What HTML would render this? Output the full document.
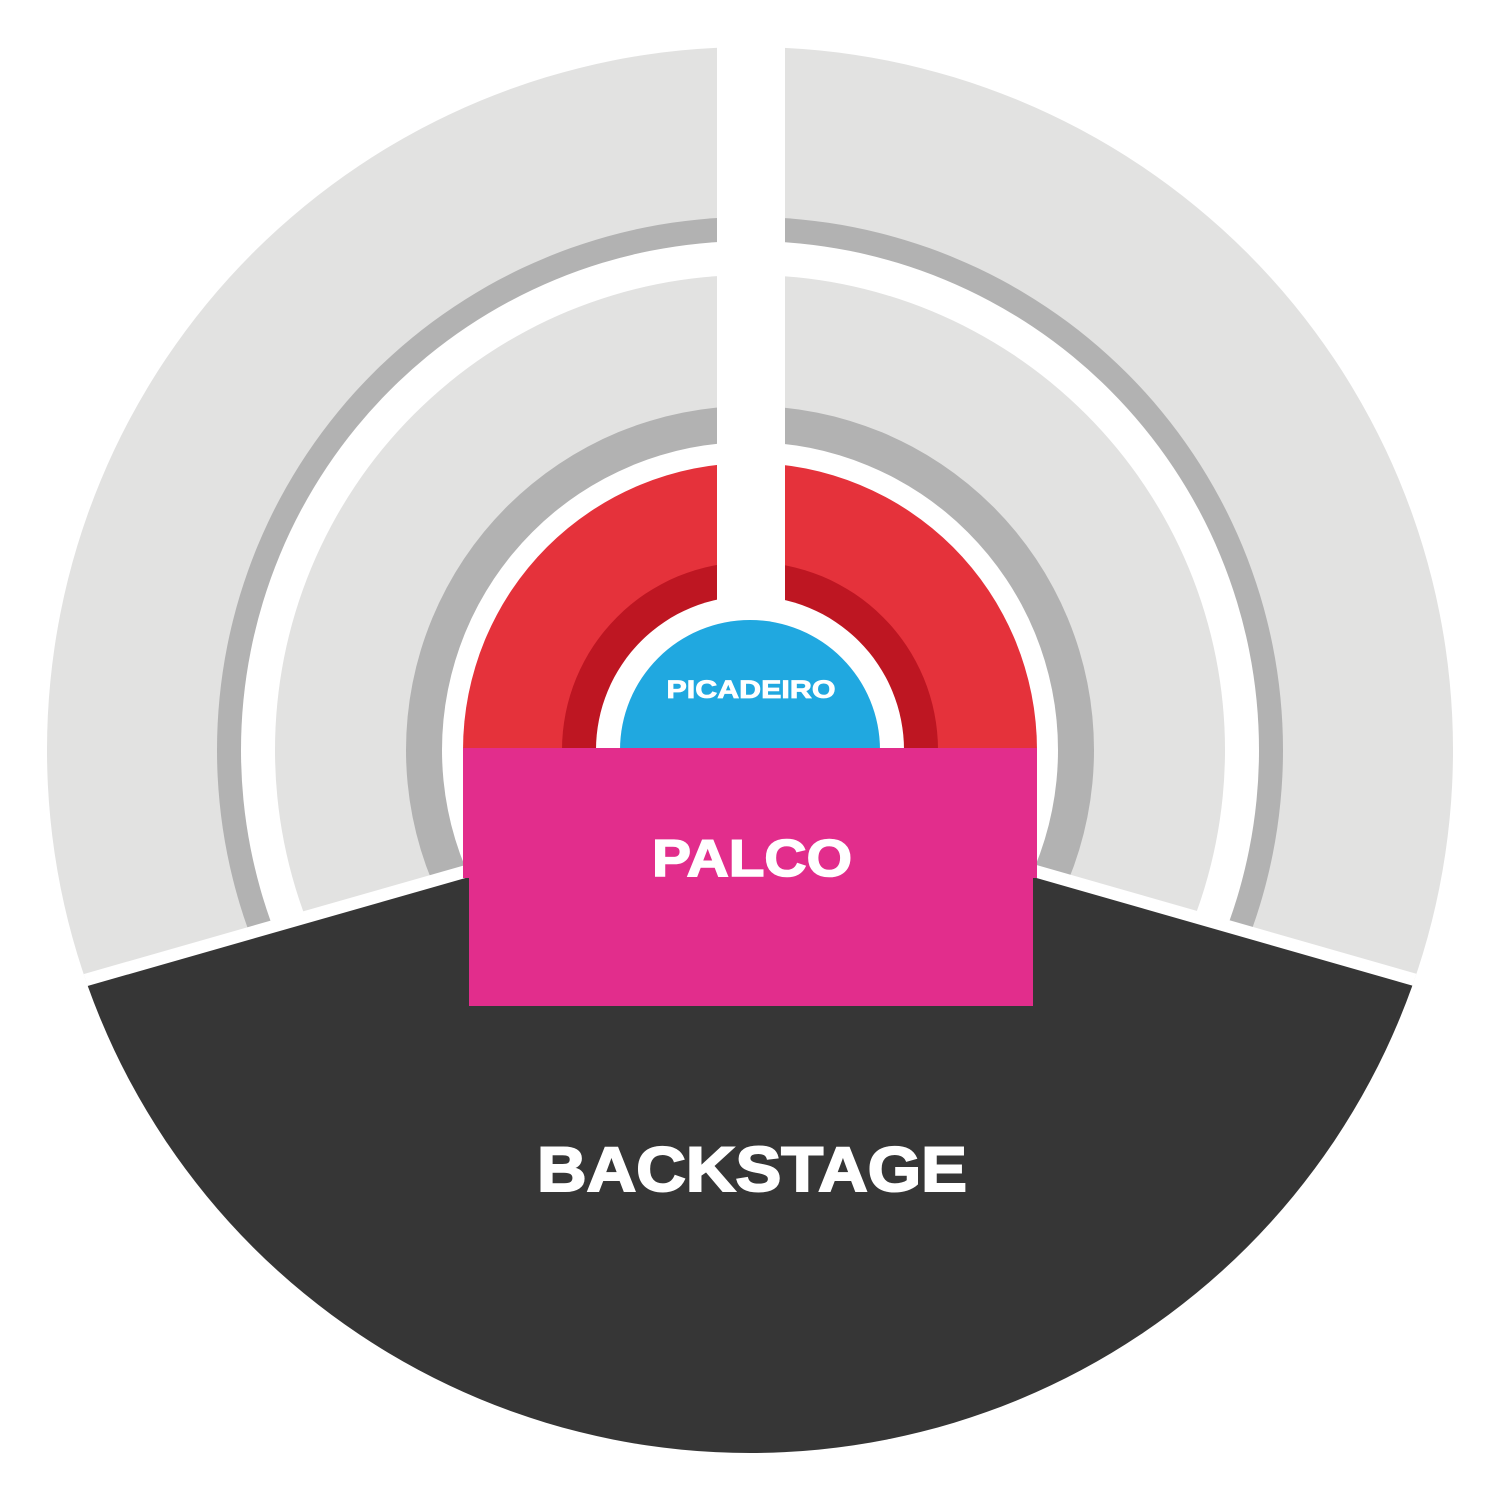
<!DOCTYPE html>
<html><head><style>html,body{margin:0;padding:0;background:#fff}svg{display:block}</style></head>
<body>
<svg width="1501" height="1501" viewBox="0 0 1501 1501" xmlns="http://www.w3.org/2000/svg">
<defs><clipPath id="c"><circle cx="750" cy="750" r="703"/></clipPath></defs>
<circle cx="750" cy="750" r="703" fill="#E2E2E1"/>
<circle cx="750" cy="750" r="533" fill="#B2B2B2"/>
<circle cx="750" cy="750" r="509" fill="#fff"/>
<circle cx="750" cy="750" r="475" fill="#E2E2E1"/>
<circle cx="750" cy="750" r="344" fill="#B2B2B2"/>
<circle cx="750" cy="750" r="308" fill="#fff"/>
<path d="M463 750 A287 287 0 0 1 1037 750 Z" fill="#E5323B"/>
<path d="M562 750 A188 188 0 0 1 938 750 Z" fill="#BE1622"/>
<path d="M596 750 A154 154 0 0 1 904 750 Z" fill="#fff"/>
<rect x="717" y="0" width="68" height="612" fill="#fff"/>
<path d="M620 750 A130 130 0 0 1 880 750 Z" fill="#20A8E0"/>
<g clip-path="url(#c)">
<polygon points="469,864 0,998 0,1501 1501,1501 1501,998 1033,864" fill="#fff"/>
<polygon points="469,877 0,1011 0,1501 1501,1501 1501,1011 1033,877" fill="#363636"/>
</g>
<rect x="463" y="748" width="574" height="130" fill="#E22D8C"/>
<rect x="469" y="877" width="564" height="129" fill="#E22D8C"/>
<g font-family="Liberation Sans, Arial, sans-serif" font-weight="bold" fill="#fff" stroke="#fff" text-anchor="middle">
<text x="751" y="698" font-size="25" stroke-width="0.8" textLength="169" lengthAdjust="spacingAndGlyphs">PICADEIRO</text>
<text x="752" y="876" font-size="52" stroke-width="1.6" textLength="200" lengthAdjust="spacingAndGlyphs">PALCO</text>
<text x="752" y="1191" font-size="63" stroke-width="2" textLength="430" lengthAdjust="spacingAndGlyphs">BACKSTAGE</text>
</g>
</svg>
</body></html>
